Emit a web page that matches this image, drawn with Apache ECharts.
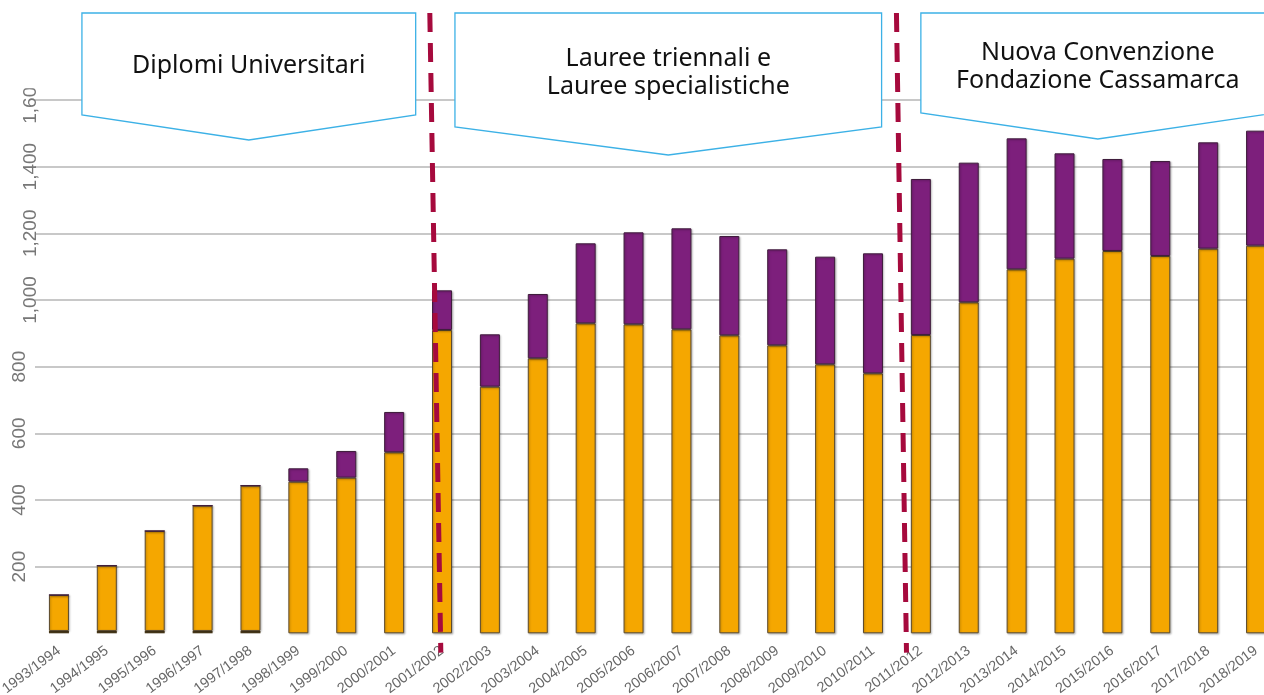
<!DOCTYPE html>
<html>
<head>
<meta charset="utf-8">
<script src="https://cdn.jsdelivr.net/npm/echarts@6/dist/echarts.min.js"></script>
<style>
  html, body { margin: 0; padding: 0; background: #fff; }
  #chart { width: 1264px; height: 695px; }
</style>
</head>
<body>
<div id="chart"></div>
<script>
var years = ['1993/1994', '1994/1995', '1995/1996', '1996/1997', '1997/1998', '1998/1999', '1999/2000',
  '2000/2001', '2001/2002', '2002/2003', '2003/2004', '2004/2005', '2005/2006', '2006/2007', '2007/2008',
  '2008/2009', '2009/2010', '2010/2011', '2011/2012', '2012/2013', '2013/2014', '2014/2015', '2015/2016',
  '2016/2017', '2017/2018', '2018/2019'];
// piccola base scura visibile sotto le prime barre
var baseVals = [7, 7, 7, 7, 7, 0, 0, 0, 0, 0, 0, 0, 0, 0, 0, 0, 0, 0, 0, 0, 0, 0, 0, 0, 0, 0];
var orangeVals = [108, 196, 300, 376, 436, 455, 467, 543, 910, 740, 825, 930, 927, 912, 894, 864, 807, 780,
  895, 993, 1092, 1124, 1147, 1132, 1154, 1163];
var purpleVals = [0, 0, 0, 0, 0, 40, 80, 121, 119, 157, 193, 240, 276, 303, 298, 288, 323, 360,
  468, 419, 393, 316, 276, 285, 319, 345];
var yTicks = [0, 200, 400, 600, 800, 1000, 1200, 1400, 1600];

// riquadri: [indice sinistro, indice destro, valore lati, valore punta, valore centro testo, testo]
var boxes = [
  [0.48, 7.45, 1555, 1480, 1702, 'Diplomi Universitari'],
  [8.27, 17.18, 1519, 1435, 1680, 'Lauree triennali e\nLauree specialistiche'],
  [18.0, 25.39, 1561, 1483, 1700, 'Nuova Convenzione\nFondazione Cassamarca']
];
// linee tratteggiate: [indice in alto, indice in basso]
var dividers = [[7.745, 7.975], [17.49, 17.70]];

var myChart = echarts.init(document.getElementById('chart'));

var barBorder = {
  borderColor: '#5b4a2e',
  borderWidth: 1,
  shadowColor: 'rgba(0,0,0,0.25)',
  shadowBlur: 2,
  shadowOffsetX: 1,
  shadowOffsetY: 1
};

var yLabelStyle = {
  rotate: 90,
  color: '#777',
  fontSize: 19,
  fontFamily: 'Liberation Sans, Arial, sans-serif'
};

var option = {
  backgroundColor: '#fff',
  animation: false,
  grid: {
    left: 35,
    right: -16,
    top: 100,
    bottom: 61.7,
    containLabel: false,
    outerBoundsMode: 'none'
  },
  xAxis: {
    type: 'category',
    data: years,
    axisLine: { show: false },
    axisTick: { show: false },
    axisLabel: {
      interval: 0,
      rotate: 37,
      margin: 16,
      color: '#666',
      fontSize: 14.5,
      fontFamily: 'Liberation Sans, Arial, sans-serif',
      hideOverlap: false
    }
  },
  yAxis: [{
    type: 'value',
    min: yTicks[0],
    max: yTicks[yTicks.length - 1],
    interval: 200,
    axisLine: { show: false },
    axisTick: { show: false },
    axisLabel: Object.assign({}, yLabelStyle, {
      margin: 6,
      formatter: function (v) {
        return (v === 0 || v >= 1000) ? '' : String(v);
      }
    }),
    splitLine: {
      showMinLine: false,
      lineStyle: { color: '#c8c8c8', width: 2 }
    }
  }, {
    // etichette delle migliaia, spostate verso destra come nell'originale
    type: 'value',
    position: 'left',
    min: yTicks[0],
    max: yTicks[yTicks.length - 1],
    interval: 200,
    axisLine: { show: false },
    axisTick: { show: false },
    splitLine: { show: false },
    axisLabel: Object.assign({}, yLabelStyle, {
      margin: -5,
      formatter: function (v) {
        return v >= 1000 ? v.toLocaleString('en-US') : '';
      }
    })
  }],
  series: [{
    name: 'base',
    type: 'bar',
    stack: 'tot',
    barWidth: 20,
    data: baseVals,
    itemStyle: { color: '#4a3a1c' }
  }, {
    name: 'arancio',
    type: 'bar',
    stack: 'tot',
    barWidth: 20,
    data: orangeVals,
    itemStyle: Object.assign({ color: '#f5a700' }, barBorder)
  }, {
    name: 'viola',
    type: 'bar',
    stack: 'tot',
    barWidth: 20,
    data: purpleVals,
    itemStyle: Object.assign({ color: '#7d1f7c' }, barBorder, { borderColor: '#3f1d3c' })
  }]
};
myChart.setOption(option);

// posizioni dei decori calcolate dagli assi
var x0 = myChart.convertToPixel({ xAxisIndex: 0 }, 0);
var step = myChart.convertToPixel({ xAxisIndex: 0 }, 1) - x0;
function px(idx, val) {
  return [x0 + idx * step, myChart.convertToPixel({ yAxisIndex: 0 }, val)];
}
var topVal = 1861;
var graphics = [];
// copre la parte alta dell'etichetta 1,600 come nell'originale
graphics.push({
  type: 'rect', z: 100,
  shape: { x: 0, y: 0, width: 40, height: px(0, 1635)[1] },
  style: { fill: '#fff' }
});
dividers.forEach(function (d) {
  var a = px(d[0], topVal), b = px(d[1], -58);
  graphics.push({
    type: 'line', z: 90,
    shape: { x1: a[0], y1: a[1], x2: b[0], y2: b[1] },
    style: { stroke: '#a60a3d', lineWidth: 5, lineDash: [19, 11] }
  });
});
boxes.forEach(function (b) {
  var mid = (b[0] + b[1]) / 2;
  var pts = [px(b[0], topVal), px(b[1], topVal), px(b[1], b[2]), px(mid, b[3]), px(b[0], b[2])];
  graphics.push({
    type: 'polygon', z: 95,
    shape: { points: pts },
    style: { fill: '#fff', stroke: '#3cb1e6', lineWidth: 1.3 }
  });
  graphics.push({
    type: 'text', z: 96,
    x: px(mid, 0)[0], y: px(0, b[4])[1],
    style: {
      text: b[5],
      fill: '#111',
      font: '25px "Noto Sans", "Open Sans", sans-serif',
      lineHeight: 28,
      textAlign: 'center',
      textVerticalAlign: 'middle'
    }
  });
});
myChart.setOption({ graphic: graphics });

window.addEventListener('resize', function () {
  myChart.resize();
}, false);
</script>
</body>
</html>
